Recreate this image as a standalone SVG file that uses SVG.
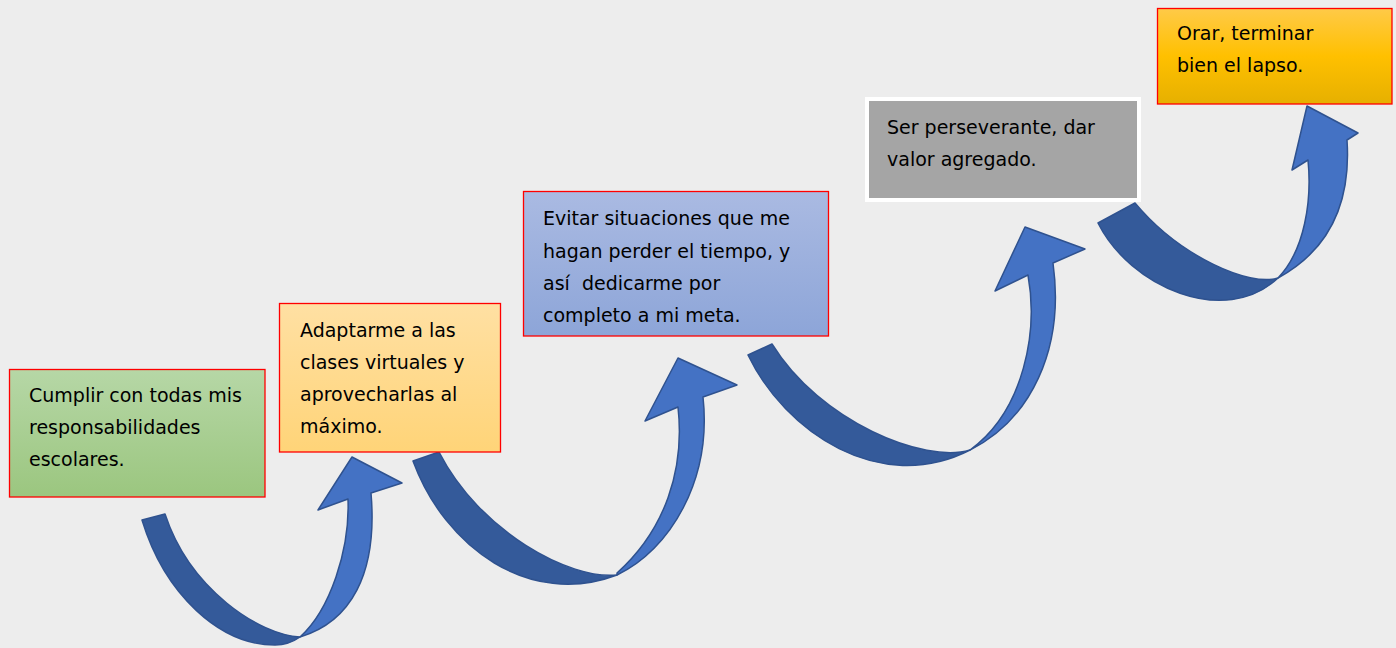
<svg xmlns="http://www.w3.org/2000/svg" width="1396" height="648" viewBox="0 0 1396 648">
<defs>
<linearGradient id="gGreen" x1="0" y1="0" x2="0" y2="1"><stop offset="0" stop-color="#b6d7a6"/><stop offset="1" stop-color="#9bc67f"/></linearGradient>
<linearGradient id="gOrange" x1="0" y1="0" x2="0" y2="1"><stop offset="0" stop-color="#ffe0a3"/><stop offset="1" stop-color="#ffd478"/></linearGradient>
<linearGradient id="gBlue" x1="0" y1="0" x2="0" y2="1"><stop offset="0" stop-color="#aabae2"/><stop offset="1" stop-color="#8da5d8"/></linearGradient>
<linearGradient id="gYellow" x1="0" y1="0" x2="0" y2="1"><stop offset="0" stop-color="#ffca48"/><stop offset="0.5" stop-color="#ffc000"/><stop offset="1" stop-color="#e6b000"/></linearGradient>
<style>
.box{stroke:#ff0000;stroke-width:1.3}
.gray{fill:#a5a5a5;stroke:#ffffff;stroke-width:4}
.t{font-family:"Comic Sans MS","DejaVu Sans",sans-serif;font-size:19px;fill:#000}
.light{fill:#4472c4;stroke:#2f528f;stroke-width:1.5;stroke-linejoin:round}
.dark{fill:#345a9a;stroke:#2f528f;stroke-width:1.5;stroke-linejoin:round}
</style>
</defs>
<rect width="1396" height="648" fill="#ededed"/>
<g id="connectors">
<g id="arrow1">
<path class="light" d="M300,637 C350,622 378,575 371,493 L402,483 L352,457 L318,510 L348,499 C350,550 330,610 300,637 Z"/>
<path class="dark" d="M142,520 C165,595 220,645 275,645 C285,645 293,642 300,637 C260,635 190,590 165,514 Z"/>
</g>
<g id="arrow2">
<path class="light" d="M617,575 C670,550 712,480 703,397 L737,385 L678,358 L645,421 L678,407 C685,470 665,530 617,573 Z"/>
<path class="dark" d="M413,461 C445,548 530,608 617,575 C570,580 480,532 439,452 Z"/>
</g>
<g id="arrow3">
<path class="light" d="M970,450 C1030,420 1065,350 1053,263 L1085,249 L1025,227 L995,291 L1028,275 C1038,330 1025,410 970,450 Z"/>
<path class="dark" d="M748,355 C785,432 880,496 970,450 C925,464 820,422 772,344 Z"/>
</g>
<g id="arrow4">
<path class="light" d="M1278,278 C1320,255 1352,215 1347,140 L1358,133 L1307,106 L1292,170 L1308,160 C1312,200 1305,250 1278,278 Z"/>
<path class="dark" d="M1098,223 C1130,287 1225,328 1278,278 C1250,287 1180,257 1135,203 Z"/>
</g>
</g>
<g id="node1">
<rect class="box" x="9.5" y="369.5" width="255.5" height="127.5" fill="url(#gGreen)"/>
<text class="t" x="29" y="402">Cumplir con todas mis</text>
<text class="t" x="29" y="434">responsabilidades</text>
<text class="t" x="29" y="466">escolares.</text>
</g>
<g id="node2">
<rect class="box" x="279.5" y="303.5" width="221" height="148.5" fill="url(#gOrange)"/>
<text class="t" x="300" y="337">Adaptarme a las</text>
<text class="t" x="300" y="369">clases virtuales y</text>
<text class="t" x="300" y="401">aprovecharlas al</text>
<text class="t" x="300" y="433">máximo.</text>
</g>
<g id="node3">
<rect class="box" x="523.5" y="191.5" width="305" height="144.5" fill="url(#gBlue)"/>
<text class="t" x="543" y="225">Evitar situaciones que me</text>
<text class="t" x="543" y="258">hagan perder el tiempo, y</text>
<text class="t" x="543" y="290" xml:space="preserve">así  dedicarme por</text>
<text class="t" x="543" y="322">completo a mi meta.</text>
</g>
<g id="node4">
<rect class="gray" x="867" y="99" width="272" height="101"/>
<text class="t" x="887" y="134">Ser perseverante, dar</text>
<text class="t" x="887" y="166">valor agregado.</text>
</g>
<g id="node5">
<rect class="box" x="1157.5" y="8.5" width="234.5" height="95.5" fill="url(#gYellow)"/>
<text class="t" x="1177" y="40">Orar, terminar</text>
<text class="t" x="1177" y="72">bien el lapso.</text>
</g>
</svg>
